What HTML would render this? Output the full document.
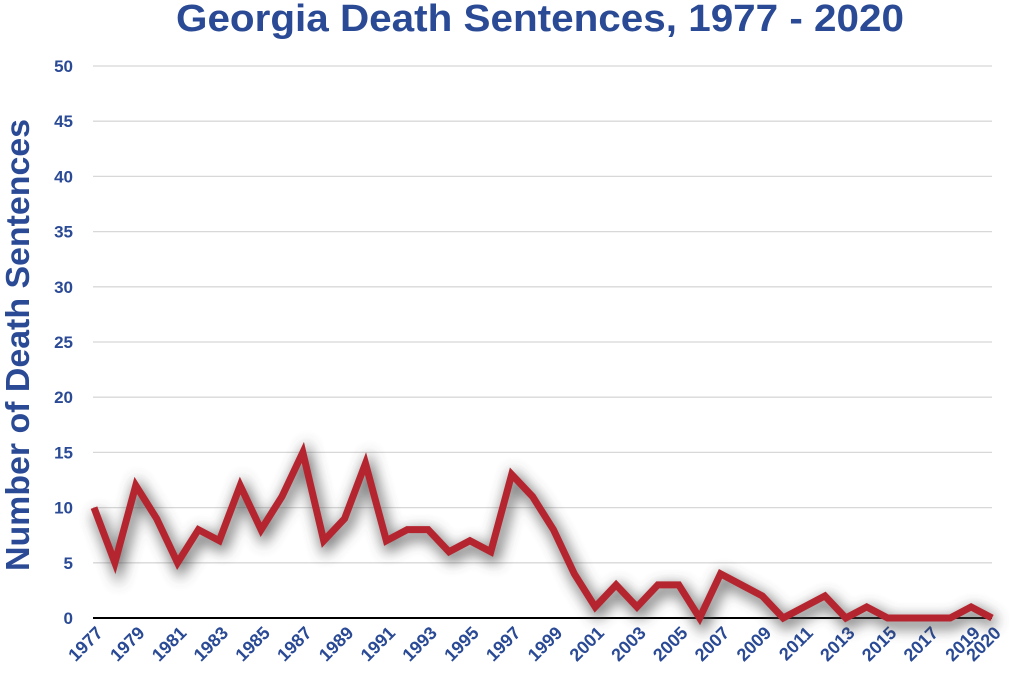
<!DOCTYPE html>
<html><head><meta charset="utf-8"><style>
body{margin:0;background:#fff;}
svg{display:block;font-family:"Liberation Sans",sans-serif;}
</style></head><body>
<svg id="chart" width="1024" height="678" viewBox="0 0 1024 678">
<defs><filter id="sh" x="-10%" y="-30%" width="120%" height="160%"><feGaussianBlur stdDeviation="7"/></filter></defs>
<text x="540" y="31" text-anchor="middle" font-size="38" font-weight="bold" fill="#2a4a95" textLength="728" lengthAdjust="spacingAndGlyphs">Georgia Death Sentences, 1977 - 2020</text>
<text transform="translate(29,345) rotate(-90)" text-anchor="middle" font-size="33" font-weight="bold" fill="#2a4a95" textLength="452" lengthAdjust="spacingAndGlyphs">Number of Death Sentences</text>
<g id="grid"></g><g id="ylabels"></g><g id="xlabels"></g><g id="series"></g>
</svg>
<script>
const years=[1977,1978,1979,1980,1981,1982,1983,1984,1985,1986,1987,1988,1989,1990,1991,1992,1993,1994,1995,1996,1997,1998,1999,2000,2001,2002,2003,2004,2005,2006,2007,2008,2009,2010,2011,2012,2013,2014,2015,2016,2017,2018,2019,2020];
const sentences=[10,5,12,9,5,8,7,12,8,11,15,7,9,14,7,8,8,6,7,6,13,11,8,4,1,3,1,3,3,0,4,3,2,0,1,2,0,1,0,0,0,0,1,0];
const yTicks=[0,5,10,15,20,25,30,35,40,45,50];
const xTickLabels=[1977,1979,1981,1983,1985,1987,1989,1991,1993,1995,1997,1999,2001,2003,2005,2007,2009,2011,2013,2015,2017,2019,2020];
const NS="http://www.w3.org/2000/svg";
const x=y=>94+(y-1977)*(992-94)/(2020-1977);
const yS=v=>618-v*(618-66)/50;
function mk(t,a,p){const e=document.createElementNS(NS,t);for(const k in a)e.setAttribute(k,a[k]);p.appendChild(e);return e;}
const grid=document.getElementById('grid'),yl=document.getElementById('ylabels'),xl=document.getElementById('xlabels'),ser=document.getElementById('series');
yTicks.forEach(v=>{
 const l=mk('line',{x1:93,x2:992,y1:yS(v),y2:yS(v),stroke:v===0?'#000':'#d8d8d8','stroke-width':v===0?2:1.3},grid);
 
 
 const t=mk('text',{x:73,y:yS(v)+6,'text-anchor':'end','font-size':17,'font-weight':'bold',fill:'#2a4a95'},yl);
 t.textContent=v;
 
 
});
xTickLabels.forEach(yr=>{
 const px=x(yr)+10;
 const t=mk('text',{x:px,y:634,'text-anchor':'end','font-size':18,'font-weight':'bold',fill:'#2a4a95',transform:`rotate(-45 ${px} 634)`},xl);
 t.textContent=yr;
 
 
});
const pts=years.map((yr,i)=>x(yr)+','+yS(sentences[i])).join(' ');
const s=mk('polyline',{points:pts,fill:'none',stroke:'#444','stroke-width':11,'stroke-linejoin':'miter',opacity:0.75,filter:'url(#sh)',transform:'translate(3,5)'},ser);


const ln=mk('polyline',{points:pts,fill:'none',stroke:'#b5252f','stroke-width':7,'stroke-linejoin':'miter'},ser);


</script>
</body></html>
